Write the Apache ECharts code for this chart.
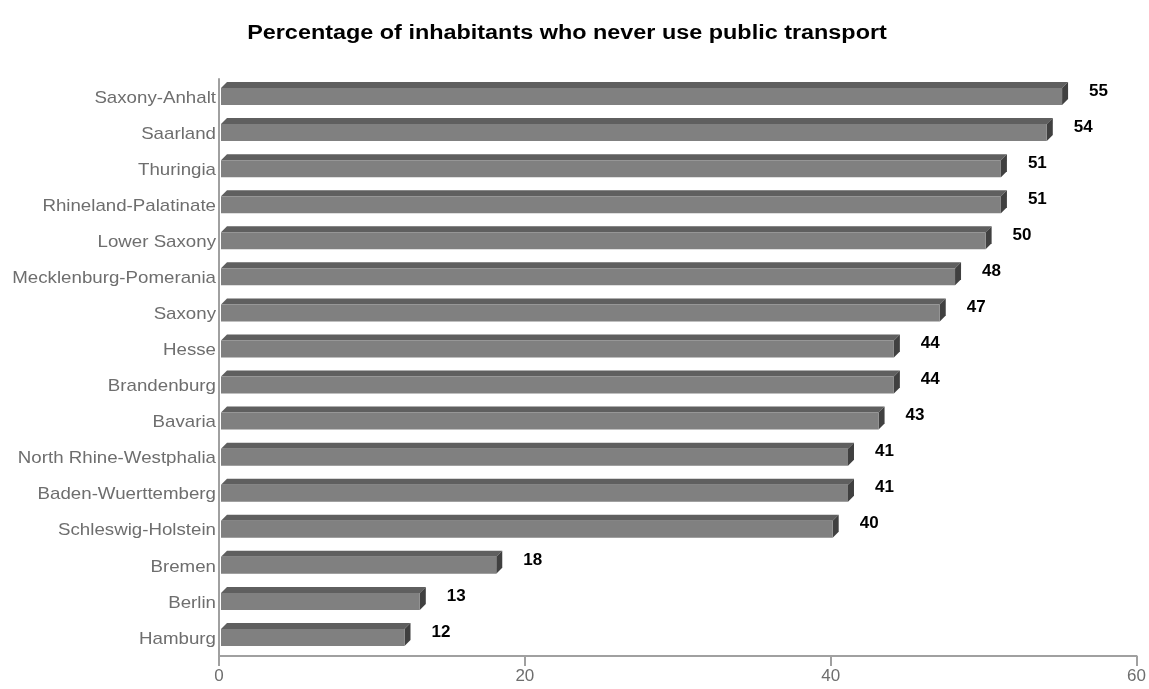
<!DOCTYPE html>
<html>
<head>
<meta charset="utf-8">
<script src="https://cdn.jsdelivr.net/npm/echarts@6/dist/echarts.min.js"></script>
<style>
  html, body { margin: 0; padding: 0; background: #fff; }
  #chart { width: 1149px; height: 689px; }
</style>
</head>
<body>
<div id="chart"></div>
<script>
// States, listed top to bottom
const states = [
  'Saxony-Anhalt', 'Saarland', 'Thuringia', 'Rhineland-Palatinate', 'Lower Saxony',
  'Mecklenburg-Pomerania', 'Saxony', 'Hesse', 'Brandenburg', 'Bavaria',
  'North Rhine-Westphalia', 'Baden-Wuerttemberg', 'Schleswig-Holstein',
  'Bremen', 'Berlin', 'Hamburg'
];
// Percentage of inhabitants who never use public transport
const neverUsePct = [55, 54, 51, 51, 50, 48, 47, 44, 44, 43, 41, 41, 40, 18, 13, 12];
const xTicks = [0, 20, 40, 60];
const chartTitle = 'Percentage of inhabitants who never use public transport';

const FONT = '"Liberation Sans", Arial, sans-serif';
const DEPTH_X = 6, DEPTH_Y = 6;

// 3D-looking bar: front face, top face and right side face, plus value label
function renderBar(params, api) {
  const idx = api.value(0);
  const val = api.value(1);
  const start = api.coord([0, idx]);
  const end = api.coord([val, idx]);
  const cy = start[1];
  const x0 = start[0] + 2;
  const x1 = end[0] + 2;
  const yTop = cy - 9;
  const yBot = cy + 8;
  return {
    type: 'group',
    children: [
      { type: 'polygon', shape: { points: [[x0, yTop], [x0 + DEPTH_X, yTop - DEPTH_Y], [x1 + DEPTH_X, yTop - DEPTH_Y], [x1, yTop]] },
        style: { fill: '#5f5f5f' } },
      { type: 'polygon', shape: { points: [[x1, yTop], [x1 + DEPTH_X, yTop - DEPTH_Y], [x1 + DEPTH_X, yBot - DEPTH_Y], [x1, yBot]] },
        style: { fill: '#404040' } },
      { type: 'rect', shape: { x: x0, y: yTop, width: x1 - x0, height: yBot - yTop },
        style: { fill: '#808080' } },
      { type: 'text', x: x1 + 27, y: cy - 6,
        style: { text: String(val), fill: '#000', font: 'bold 17px ' + FONT,
                 textAlign: 'left', textVerticalAlign: 'middle' } },
      // category label, slightly widened
      { type: 'text', x: start[0] - 3, y: cy + 1, scaleX: 1.1,
        style: { text: states[idx], fill: '#6e6e6e', font: '17px ' + FONT,
                 textAlign: 'right', textVerticalAlign: 'middle' } }
    ]
  };
}

const chart = echarts.init(document.getElementById('chart'), null, { renderer: 'canvas' });
chart.setOption({
  animation: false,
  backgroundColor: '#ffffff',
  graphic: [{
    type: 'text', x: 567, y: 33, scaleX: 1.17,
    style: { text: chartTitle, fill: '#000', font: 'bold 20px ' + FONT,
             textAlign: 'center', textVerticalAlign: 'middle' }
  }],
  grid: { left: 219, right: 11, top: 79, bottom: 33, containLabel: false },
  xAxis: {
    type: 'value', min: 0, max: 60, interval: 20,
    axisLine: { show: true, lineStyle: { color: '#a0a0a0', width: 2 } },
    axisTick: { show: true, length: 10, lineStyle: { color: '#a0a0a0', width: 2 } },
    splitLine: { show: false },
    axisLabel: { color: '#6e6e6e', fontSize: 17, fontFamily: FONT, margin: 12,
                 formatter: v => xTicks.includes(v) ? String(v) : '' }
  },
  yAxis: {
    type: 'category', data: states, inverse: true,
    axisLine: { show: true, lineStyle: { color: '#a0a0a0', width: 2 } },
    axisTick: { show: false },
    axisLabel: { show: false }
  },
  series: [{
    type: 'custom',
    renderItem: renderBar,
    clip: false,
    encode: { x: 1, y: 0 },
    data: neverUsePct.map((v, i) => [i, v])
  }]
});
</script>
</body>
</html>
